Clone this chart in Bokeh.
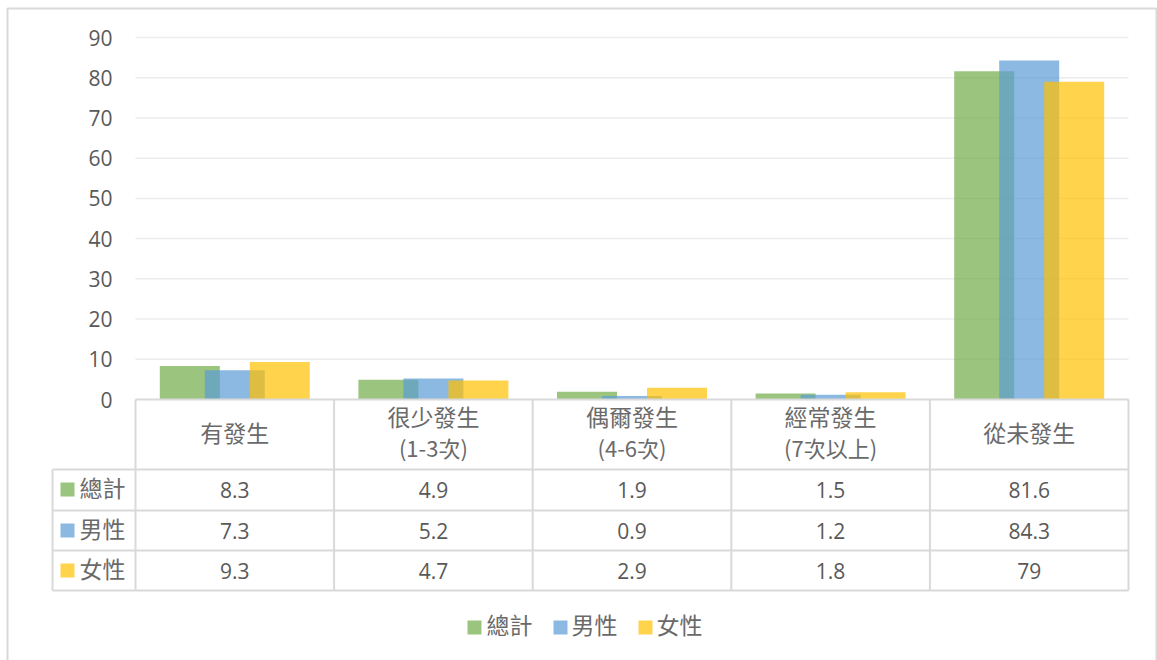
from bokeh.plotting import figure
from bokeh.models import Range1d
from bokeh.core.properties import value
from bokeh.embed import file_html
from bokeh.resources import INLINE

# ---------------- data ----------------
categories_line1 = ["有發生", "很少發生", "偶爾發生", "經常發生", "從未發生"]
categories_line2 = ["", "(1-3次)", "(4-6次)", "(7次以上)", ""]
series_names = ["總計", "男性", "女性"]
total = [8.3, 4.9, 1.9, 1.5, 81.6]
male = [7.3, 5.2, 0.9, 1.2, 84.3]
female = [9.3, 4.7, 2.9, 1.8, 79]
series_values = [total, male, female]
table_labels = [["8.3", "4.9", "1.9", "1.5", "81.6"],
                ["7.3", "5.2", "0.9", "1.2", "84.3"],
                ["9.3", "4.7", "2.9", "1.8", "79"]]
y_ticks = [0, 10, 20, 30, 40, 50, 60, 70, 80, 90]
colors = ["#70AD47", "#5B9BD5", "#FFC000"]

# ---------------- layout helpers ----------------
W, H = 1157, 660
X0_PX = 135.0
CAT_W = 198.6
Y0_PX = 399.0
PPU = 362.0 / 90.0

def X(px):
    return (px - X0_PX) / CAT_W

def Y(py):
    return (Y0_PX - py) / PPU

p = figure(width=W, height=H, output_backend="svg", toolbar_location=None,
           x_range=Range1d(X(0), X(W)), y_range=Range1d(Y(H), Y(0)),
           x_axis_type=None, y_axis_type=None, min_border=0)
p.outline_line_color = None
p.grid.visible = False
p.background_fill_color = "white"
p.border_fill_color = "white"

CJK = value("Noto Sans CJK TC")
NUM = value("Open Sans")
TXT = "#595959"
CJK_TXT = "#6a6a6a"
LINE = "#d9d9d9"
CJK_SHIFT = 3  # px upward correction for CJK baseline

# outer border
p.quad(left=[X(7)], right=[X(1156)], top=[Y(8)], bottom=[Y(700)],
       fill_color=None, line_color=LINE, line_width=2)

# gridlines
n = len(categories_line1)
gy = [t for t in y_ticks if t > 0]
p.segment(x0=[0] * len(gy), x1=[n] * len(gy), y0=gy, y1=gy,
          line_color="#ececec", line_width=1.5)

# y tick labels
p.text(x=[X(112)] * len(y_ticks), y=y_ticks, text=[str(t) for t in y_ticks],
       text_align="right", text_baseline="middle", text_font=NUM,
       text_font_size="21px", text_color=TXT)

# bars
offsets = [-45 / CAT_W, 0.0, 45 / CAT_W]
bw = 60 / CAT_W
for j, vals in enumerate(series_values):
    xs = [i + 0.5 + offsets[j] for i in range(n)]
    p.vbar(x=xs, top=vals, bottom=0, width=bw, fill_color=colors[j],
           fill_alpha=0.7, line_color=None)

# table lines
col_edges = [float(i) for i in range(n + 1)]
row_tops_px = [469, 510, 550, 590]
p.segment(x0=[0], x1=[n], y0=[0], y1=[0], line_color=LINE, line_width=2)
hx0 = [X(52)] * len(row_tops_px)
p.segment(x0=hx0, x1=[n] * len(row_tops_px), y0=[Y(v) for v in row_tops_px],
          y1=[Y(v) for v in row_tops_px], line_color=LINE, line_width=2)
p.segment(x0=col_edges, x1=col_edges, y0=[0] * len(col_edges),
          y1=[Y(590)] * len(col_edges), line_color=LINE, line_width=2)
p.segment(x0=[X(52)], x1=[X(52)], y0=[Y(469)], y1=[Y(590)],
          line_color=LINE, line_width=2)

# header labels
cx = [i + 0.5 for i in range(n)]
one_line = [i for i in range(n) if categories_line2[i] == ""]
two_line = [i for i in range(n) if categories_line2[i] != ""]
p.text(x=[cx[i] for i in one_line], y=[Y(434 - CJK_SHIFT)] * len(one_line),
       text=[categories_line1[i] for i in one_line], text_align="center",
       text_baseline="middle", text_font=CJK, text_font_size="23px",
       text_color=CJK_TXT)
p.text(x=[cx[i] for i in two_line], y=[Y(418 - CJK_SHIFT)] * len(two_line),
       text=[categories_line1[i] for i in two_line], text_align="center",
       text_baseline="middle", text_font=CJK, text_font_size="23px",
       text_color=CJK_TXT)
p.text(x=[cx[i] for i in two_line], y=[Y(449 - CJK_SHIFT)] * len(two_line),
       text=[categories_line2[i] for i in two_line], text_align="center",
       text_baseline="middle", text_font=CJK, text_font_size="22px",
       text_color=CJK_TXT)

# table rows
row_centers_px = [489, 530, 570]
for j in range(3):
    yc = Y(row_centers_px[j])
    p.scatter(x=[X(67)], y=[yc], marker="square", size=14,
              fill_color=colors[j], fill_alpha=0.7, line_color=None)
    p.text(x=[X(79)], y=[Y(row_centers_px[j] - CJK_SHIFT)],
           text=[series_names[j]], text_align="left",
           text_baseline="middle", text_font=CJK, text_font_size="23px",
           text_color=CJK_TXT)
    p.text(x=cx, y=[yc] * n, text=table_labels[j], text_align="center",
           text_baseline="middle", text_font=NUM, text_font_size="21px",
           text_color=TXT)

# bottom legend
leg_sq_px = [474, 560, 645]
leg_txt_px = [486, 571, 656]
for j in range(3):
    p.scatter(x=[X(leg_sq_px[j])], y=[Y(627)], marker="square", size=14,
              fill_color=colors[j], fill_alpha=0.7, line_color=None)
    p.text(x=[X(leg_txt_px[j])], y=[Y(626 - CJK_SHIFT)],
           text=[series_names[j]], text_align="left",
           text_baseline="middle", text_font=CJK, text_font_size="23px",
           text_color=CJK_TXT)

open("out.html", "w").write(file_html(p, INLINE))
